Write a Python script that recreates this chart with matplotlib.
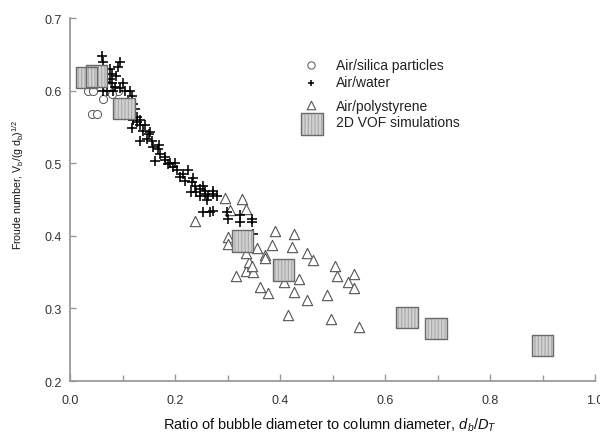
import matplotlib
matplotlib.use("Agg")
import matplotlib.pyplot as plt
from matplotlib import font_manager
from matplotlib.ticker import MultipleLocator

plt.rcParams['font.family'] = ['Liberation Sans', 'DejaVu Sans']
plt.rcParams['mathtext.fontset'] = 'custom'
plt.rcParams['mathtext.rm'] = 'Liberation Sans'
plt.rcParams['mathtext.it'] = 'Liberation Sans:italic'
plt.rcParams['hatch.linewidth'] = 0.8

_names = {f.name for f in font_manager.fontManager.ttflist}
NARROW = 'Liberation Sans Narrow' if 'Liberation Sans Narrow' in _names else None

# Air/silica particles
silica_x = [0.034, 0.044, 0.063, 0.091, 0.042, 0.051, 0.070, 0.080, 0.055]
silica_y = [0.600, 0.599, 0.589, 0.599, 0.568, 0.568, 0.605, 0.595, 0.610]

# Air/water
water_x = [0.061, 0.063, 0.095, 0.091, 0.076, 0.080, 0.076, 0.080, 0.070, 0.063,
           0.082, 0.095, 0.105, 0.114, 0.118, 0.120, 0.124, 0.128, 0.133, 0.143,
           0.120, 0.128, 0.133, 0.118, 0.139, 0.152, 0.133, 0.147, 0.156, 0.158,
           0.168, 0.171, 0.162, 0.181, 0.187, 0.196, 0.204, 0.225, 0.210, 0.219,
           0.232, 0.238, 0.248, 0.257, 0.272, 0.248, 0.253, 0.257, 0.263, 0.272,
           0.253, 0.267, 0.272, 0.299, 0.301, 0.324, 0.324, 0.347, 0.347, 0.349,
           0.100, 0.087, 0.110, 0.150, 0.170, 0.190, 0.215, 0.235, 0.240, 0.230,
           0.260, 0.280, 0.180, 0.200, 0.066, 0.085]
water_y = [0.647, 0.640, 0.640, 0.633, 0.630, 0.623, 0.616, 0.610, 0.600, 0.600,
           0.599, 0.603, 0.600, 0.600, 0.593, 0.582, 0.575, 0.564, 0.559, 0.552,
           0.559, 0.557, 0.552, 0.548, 0.545, 0.543, 0.531, 0.534, 0.530, 0.523,
           0.520, 0.513, 0.503, 0.509, 0.499, 0.495, 0.490, 0.490, 0.481, 0.476,
           0.474, 0.469, 0.465, 0.462, 0.462, 0.455, 0.469, 0.458, 0.455, 0.458,
           0.433, 0.433, 0.434, 0.433, 0.423, 0.428, 0.419, 0.423, 0.419, 0.403,
           0.610, 0.620, 0.585, 0.540, 0.525, 0.500, 0.485, 0.480, 0.460, 0.460,
           0.450, 0.455, 0.505, 0.500, 0.612, 0.605]

# Air/polystyrene
poly_x = [0.295, 0.328, 0.336, 0.238, 0.305, 0.301, 0.301, 0.390, 0.427, 0.384,
          0.422, 0.451, 0.463, 0.505, 0.508, 0.540, 0.530, 0.541, 0.489, 0.451,
          0.427, 0.436, 0.408, 0.378, 0.362, 0.416, 0.498, 0.551, 0.317, 0.336,
          0.349, 0.340, 0.346, 0.356, 0.371, 0.371, 0.336]
poly_y = [0.452, 0.451, 0.437, 0.420, 0.435, 0.399, 0.389, 0.406, 0.403, 0.388,
          0.385, 0.377, 0.366, 0.358, 0.344, 0.347, 0.337, 0.328, 0.318, 0.311,
          0.322, 0.340, 0.336, 0.321, 0.329, 0.291, 0.285, 0.274, 0.345, 0.352,
          0.350, 0.364, 0.359, 0.383, 0.374, 0.370, 0.377]

# 2D VOF simulations
vof_x = [0.032, 0.050, 0.103, 0.328, 0.406, 0.642, 0.697, 0.900]
vof_y = [0.618, 0.620, 0.575, 0.393, 0.353, 0.287, 0.272, 0.249]

legend_labels = ['Air/silica particles', 'Air/water', 'Air/polystyrene',
                 '2D VOF simulations']

fig = plt.figure(figsize=(6.0, 4.35), dpi=100)
ax = fig.add_axes([0.1167, 0.1218, 0.875, 0.8345])

si_style = dict(marker='o', facecolors='white', edgecolors='#555555', linewidths=0.7)
w_style = dict(marker='+', color='black', linewidths=1.15)
p_style = dict(marker='^', facecolors='white', edgecolors='#555555', linewidths=0.8)
v1_style = dict(marker='s', facecolors='#d2d2d2', edgecolors='#a8a8a8',
                hatch='|||||', linewidths=0.0)
v2_style = dict(marker='s', facecolors='none', edgecolors='#6a6a6a', linewidths=1.0)

ax.scatter(silica_x, silica_y, s=34, zorder=3, **si_style)
ax.scatter(water_x, water_y, s=50, zorder=4, **w_style)
ax.scatter(poly_x, poly_y, s=55, zorder=3, **p_style)
sq_size = 235
ax.scatter(vof_x, vof_y, s=sq_size, zorder=5, **v1_style)
ax.scatter(vof_x, vof_y, s=sq_size, zorder=6, **v2_style)

ax.set_xlim(0, 1.0)
ax.set_ylim(0.2, 0.7)
ax.xaxis.set_major_locator(MultipleLocator(0.2))
ax.xaxis.set_minor_locator(MultipleLocator(0.1))
ax.yaxis.set_major_locator(MultipleLocator(0.1))
ax.xaxis.set_major_formatter(plt.FuncFormatter(lambda v, p: f"{v:.1f}"))
ax.yaxis.set_major_formatter(plt.FuncFormatter(lambda v, p: f"{v:.1f}"))

for s in ['top', 'right']:
    ax.spines[s].set_visible(False)
for s in ['left', 'bottom']:
    ax.spines[s].set_color('#9a9a9a')
    ax.spines[s].set_linewidth(1.3)

ax.tick_params(axis='both', which='both', direction='in', color='#9a9a9a',
               width=1.0, labelsize=9, labelcolor='#333333')
ax.tick_params(axis='x', which='major', length=5, pad=9)
ax.tick_params(axis='x', which='minor', length=4)
ax.tick_params(axis='y', which='major', length=4, pad=6)

# axis titles
fig.text(330 / 600, 1 - 430 / 435,
         'Ratio of bubble diameter to column diameter, $d_b$/$D_T$',
         fontsize=10.5, ha='center', va='baseline', color='#111111')
ylab = 'Froude number, V$_\\mathrm{b}$/(g d$_\\mathrm{b}$)$^{1/2}$'
if NARROW:
    fig.text(18 / 600, 1 - 185 / 435, ylab, fontsize=8.2, rotation=90,
             ha='center', va='center', color='#111111',
             family=[NARROW, 'Liberation Sans'])
else:
    fig.text(18 / 600, 1 - 185 / 435, ylab, fontsize=7.6, rotation=90,
             ha='center', va='center', color='#111111')

# legend (drawn manually to match the reference's spacing)
def axpt(px, py):
    return (px - 70) / 525, (382 - py) / 363

mx = 311
ax.scatter(*axpt(mx, 66), s=28, transform=ax.transAxes, clip_on=False, zorder=7, **si_style)
ax.scatter(*axpt(mx, 84), s=22, transform=ax.transAxes, clip_on=False, zorder=7, **w_style)
ax.scatter(*axpt(mx, 106), s=38, transform=ax.transAxes, clip_on=False, zorder=7, **p_style)
ax.scatter(*axpt(mx + 1, 125), s=260, transform=ax.transAxes, clip_on=False, zorder=7, **v1_style)
ax.scatter(*axpt(mx + 1, 125), s=260, transform=ax.transAxes, clip_on=False, zorder=8, **v2_style)
for lab, py in zip(legend_labels, [66, 83, 107, 123]):
    ax.text(*axpt(336, py), lab, transform=ax.transAxes, fontsize=10,
            ha='left', va='center', color='#222222')

fig.savefig('out.png', dpi=100)
